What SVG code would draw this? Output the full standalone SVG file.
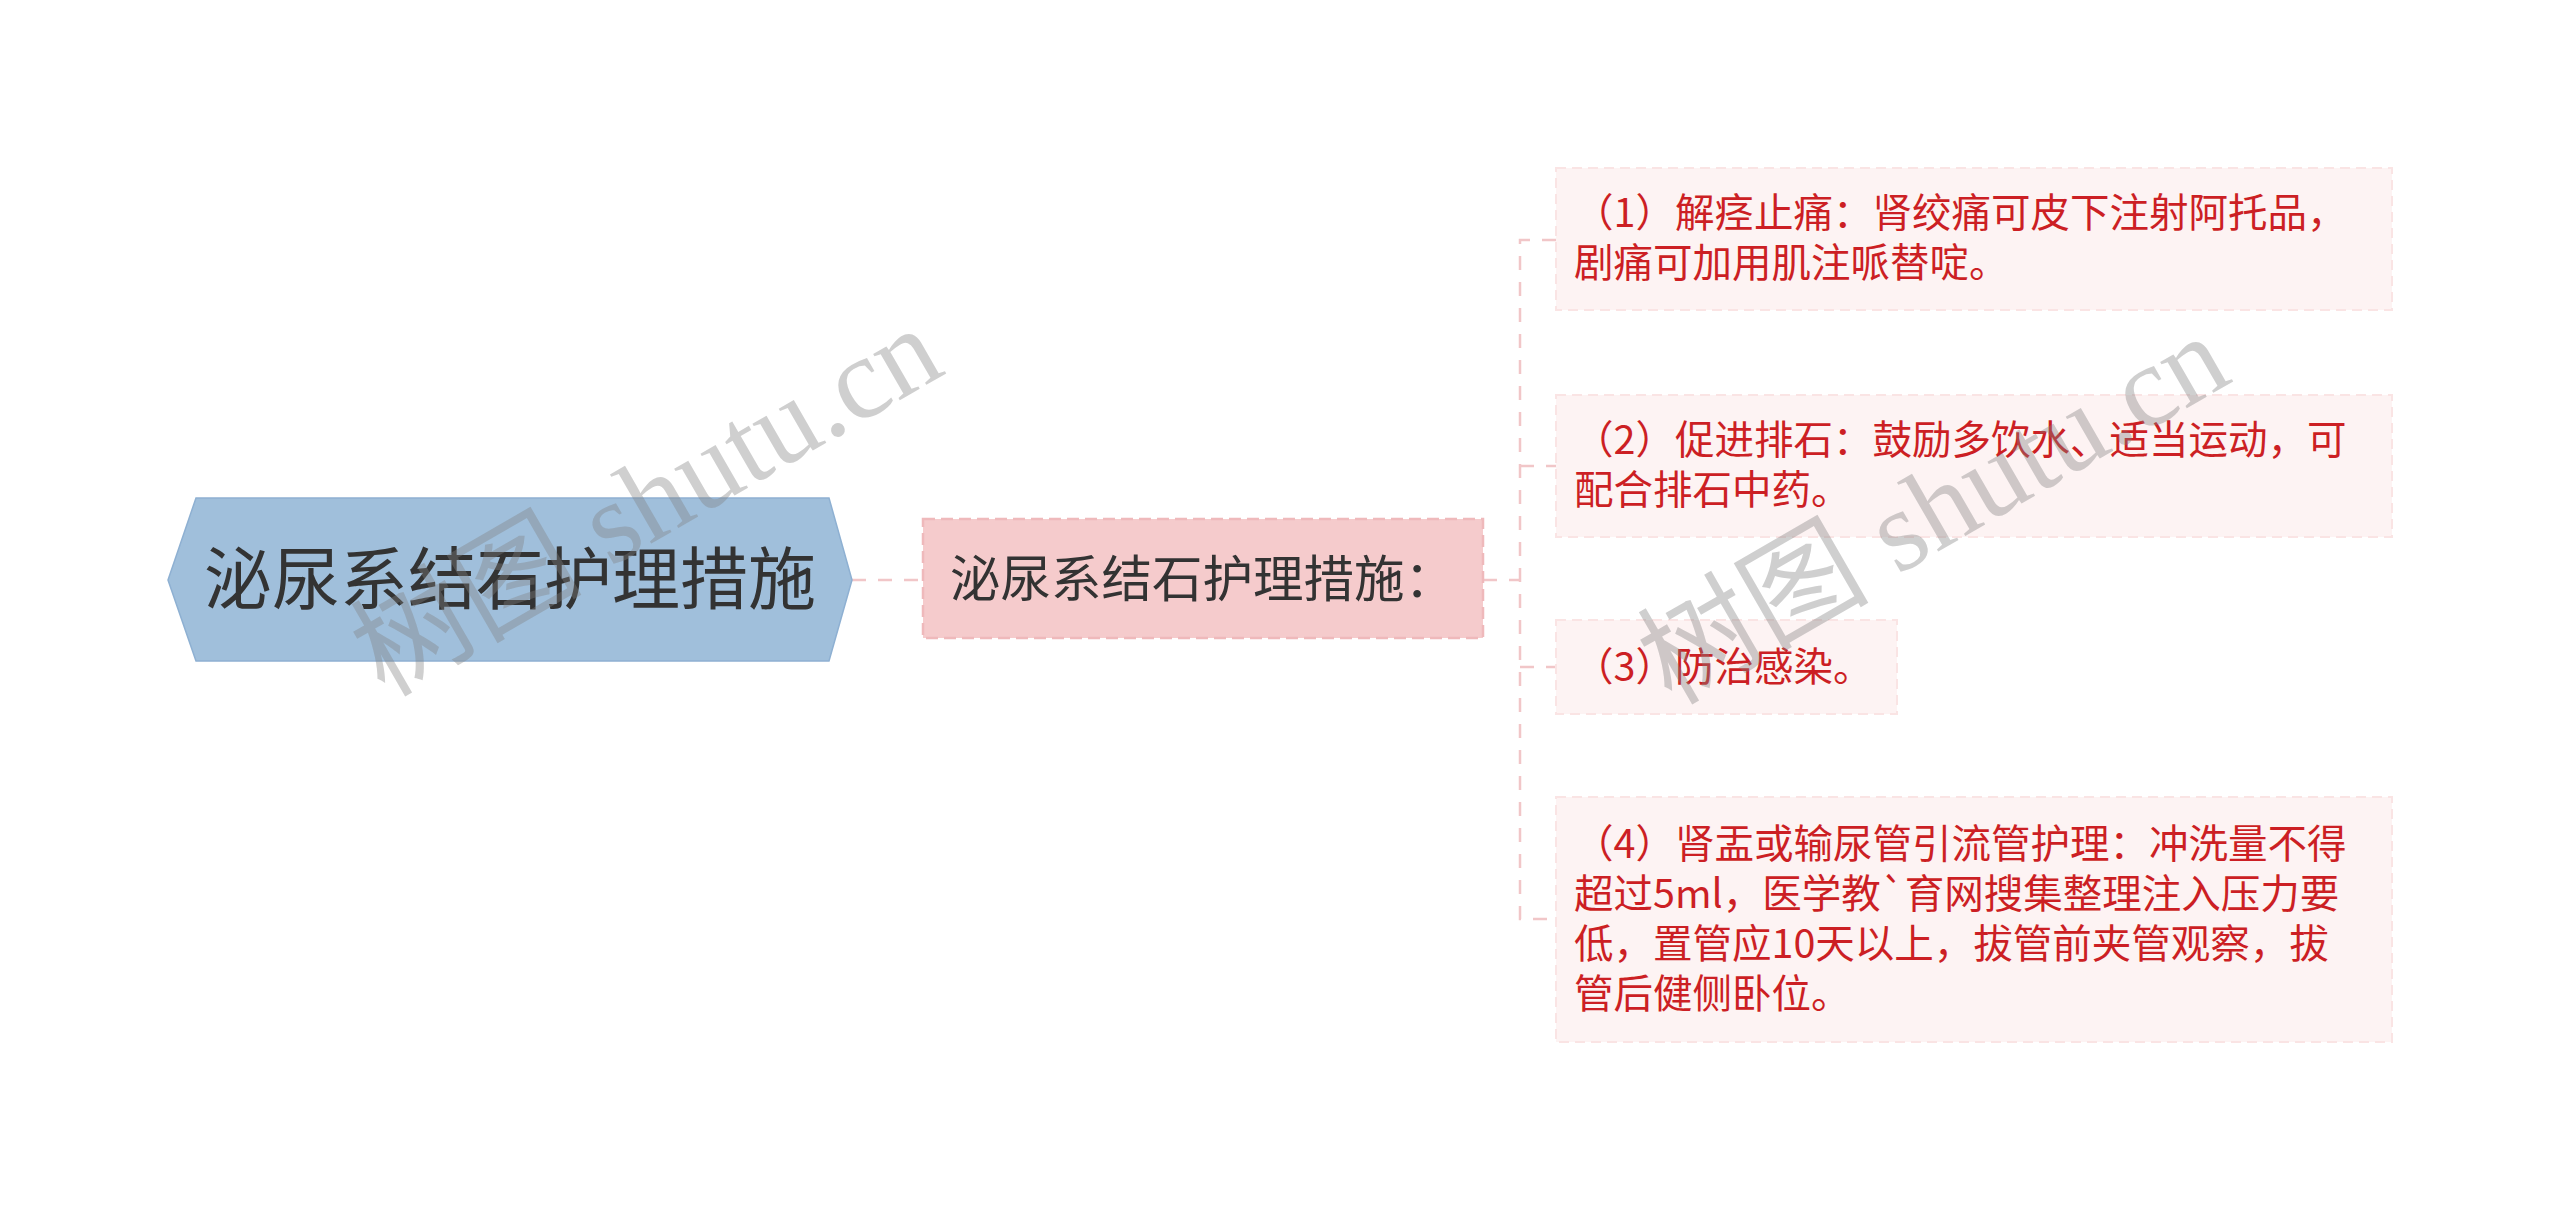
<svg xmlns="http://www.w3.org/2000/svg" width="2560" height="1212" viewBox="0 0 2560 1212">
<style>
.leaf{fill:#fdf3f3;stroke:#fae4e4;stroke-width:2;stroke-dasharray:10 6}
.lt{font-family:"Noto Sans CJK SC","Noto Sans",sans-serif;font-size:39.5px;fill:#cc1f24}
.conn{fill:none;stroke:#f1c6c8;stroke-width:2.5;stroke-dasharray:14 12}
.wm{font-family:"Liberation Serif","Noto Sans CJK SC",serif;font-size:116px;fill:#808080;fill-opacity:0.38}
</style>
<rect width="2560" height="1212" fill="#ffffff"/>
<g id="connectors">
<path class="conn" d="M852 580 H923" stroke-width="4"/>
<path class="conn" d="M1483 580 H1520"/>
<path class="conn" d="M1556 240 H1520 V919 H1556"/>
<path class="conn" d="M1520 466 H1556"/>
<path class="conn" d="M1520 667 H1556"/>
</g>
<g id="root">
<polygon points="168,580 196,498 829,498 852,580 829,661 196,661" fill="#a0bfdb" stroke="#8eb0d2" stroke-width="1.5"/>
<text x="510" y="604" text-anchor="middle" font-family="Noto Sans CJK SC,Noto Sans,sans-serif" font-size="68" fill="#333333">泌尿系结石护理措施</text>
</g>
<g id="main">
<rect x="923" y="519" width="560" height="119" fill="#f5cbcc" stroke="#efb9bb" stroke-width="2.5" stroke-dasharray="12 6"/>
<text x="950" y="597" font-family="Noto Sans CJK SC,Noto Sans,sans-serif" font-size="50.5" fill="#333333">泌尿系结石护理措施：</text>
</g>
<g id="leaf1">
<rect class="leaf" x="1556" y="168" width="836" height="142"/>
<text class="lt" x="1574" y="227">（1）解痉止痛：肾绞痛可皮下注射阿托品，</text>
<text class="lt" x="1574" y="277">剧痛可加用肌注哌替啶。</text>
</g>
<g id="leaf2">
<rect class="leaf" x="1556" y="395" width="836" height="142"/>
<text class="lt" x="1574" y="454">（2）促进排石：鼓励多饮水、适当运动，可</text>
<text class="lt" x="1574" y="504">配合排石中药。</text>
</g>
<g id="leaf3">
<rect class="leaf" x="1556" y="620" width="341" height="94"/>
<text class="lt" x="1574" y="681">（3）防治感染。</text>
</g>
<g id="leaf4">
<rect class="leaf" x="1556" y="797" width="836" height="245"/>
<text class="lt" x="1574" y="858">（4）肾盂或输尿管引流管护理：冲洗量不得</text>
<text class="lt" x="1574" y="908">超过5ml，医学教`育网搜集整理注入压力要</text>
<text class="lt" x="1574" y="958">低，置管应10天以上，拔管前夹管观察，拔</text>
<text class="lt" x="1574" y="1008">管后健侧卧位。</text>
</g>
<g id="watermarks">
<text class="wm" x="648" y="540" text-anchor="middle" transform="rotate(-30 648 504)">树图 shutu.cn</text>
<text class="wm" x="1935" y="548" text-anchor="middle" transform="rotate(-30 1935 512)">树图 shutu.cn</text>
</g>
</svg>
